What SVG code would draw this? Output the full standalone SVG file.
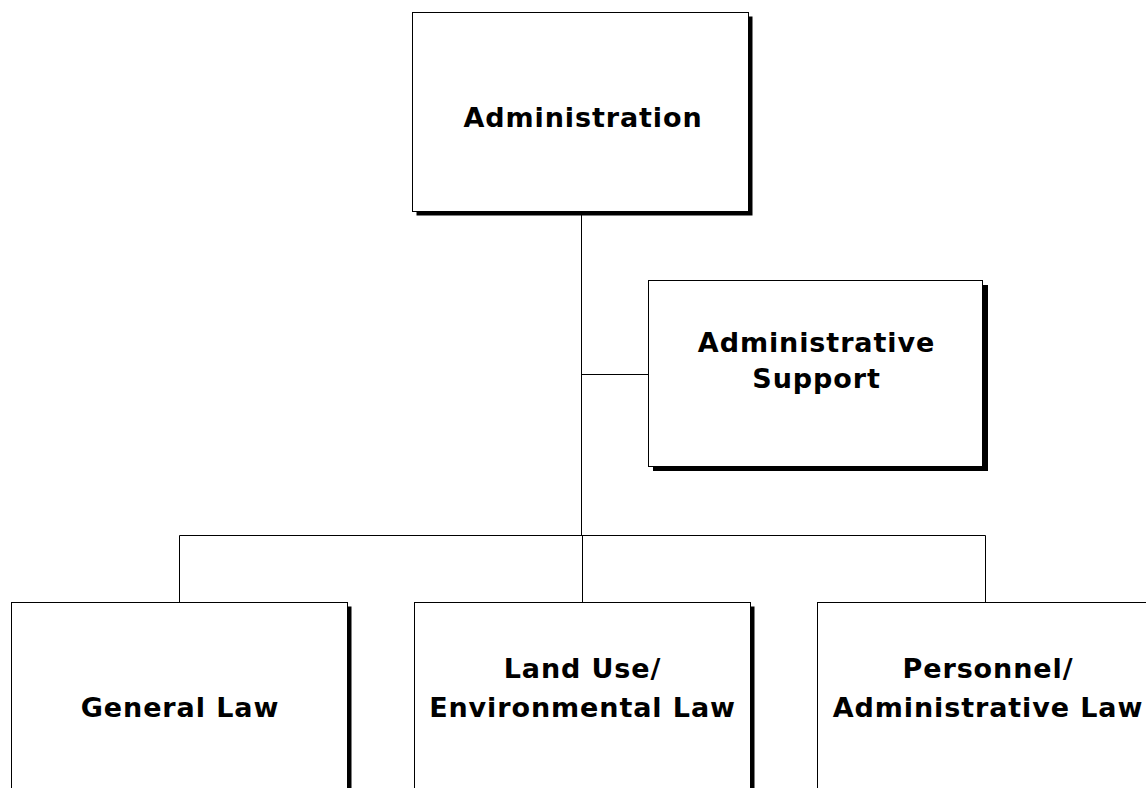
<svg xmlns="http://www.w3.org/2000/svg" width="1146" height="788" viewBox="0 0 1146 788">
<style>
.box{fill:#fff;stroke:#000;stroke-width:1}
.sh{fill:#000}
.lbl{font-family:"DejaVu Sans",Verdana,sans-serif;font-weight:bold;font-size:27px;letter-spacing:0.9px;fill:#000;text-anchor:middle}
.conn{stroke:#000;stroke-width:1;fill:none}
</style>
<rect width="1146" height="788" fill="#fff"/>
<g id="connectors">
<path class="conn" d="M581.5 212 V535.5 M581.5 374.5 H648.5 M179.5 535.5 H985.5 M179.5 535.5 V602 M582.5 535.5 V602 M985.5 535.5 V602"/>
</g>
<g id="administration">
<rect class="sh" x="416.5" y="16.5" width="336" height="199"/>
<rect class="box" x="412.5" y="12.5" width="336" height="199"/>
<text class="lbl" x="583" y="127">Administration</text>
</g>
<g id="administrative-support">
<rect class="sh" x="653" y="285" width="335" height="186"/>
<rect class="box" x="648.5" y="280.5" width="334" height="186"/>
<text class="lbl" x="816.5" y="352">Administrative</text>
<text class="lbl" x="816.5" y="388">Support</text>
</g>
<g id="general-law">
<rect class="sh" x="15.5" y="606.5" width="336" height="300"/>
<rect class="box" x="11.5" y="602.5" width="336" height="300"/>
<text class="lbl" x="180" y="717">General Law</text>
</g>
<g id="land-use">
<rect class="sh" x="418.5" y="606.5" width="336" height="300"/>
<rect class="box" x="414.5" y="602.5" width="336" height="300"/>
<text class="lbl" x="582.5" y="678">Land Use/</text>
<text class="lbl" x="582.5" y="717">Environmental Law</text>
</g>
<g id="personnel">
<rect class="sh" x="821.5" y="606.5" width="336" height="300"/>
<rect class="box" x="817.5" y="602.5" width="336" height="300"/>
<text class="lbl" x="988" y="678">Personnel/</text>
<text class="lbl" x="988" y="717">Administrative Law</text>
</g>
</svg>
